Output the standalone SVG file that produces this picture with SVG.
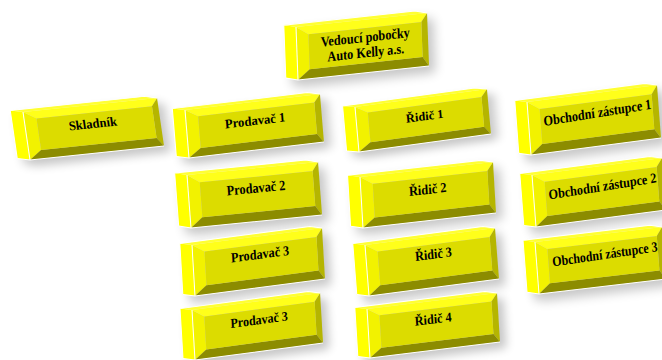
<svg xmlns="http://www.w3.org/2000/svg" xmlns:xlink="http://www.w3.org/1999/xlink" width="662" height="360" viewBox="0 0 662 360">
<style>
.t{font-family:"Liberation Serif","Times New Roman",serif;font-weight:bold;font-size:13.5px;fill:#000;text-anchor:middle}
.wl{fill:none;stroke:#fff;stroke-width:1}
</style>
<defs>
<filter id="sh" x="-30%" y="-40%" width="160%" height="180%">
<feGaussianBlur stdDeviation="5"/>
</filter>
<g id="box">
<polygon points="-12,-3 118,-3 130,0 130,50 0,50 -12,47" transform="translate(6,7)" fill="#000" opacity="0.22" filter="url(#sh)"/>
<polygon points="-12,-3 0,0 0,50 -12,47" fill="#ffff00"/>
<polygon points="-12,-3 118,-3 130,0 0,0" fill="#ffff33"/>
<polygon points="0,0 130,0 124,8 12,8" fill="#ffff1a"/>
<polygon points="0,0 12,8 12,41 0,50" fill="#f2f200"/>
<polygon points="130,0 130,50 124,41 124,8" fill="#b5b500"/>
<polygon points="0,50 130,50 124,41 12,41" fill="#8c8c00"/>
<polygon points="12,8 124,8 124,41 12,41" fill="#dcdc00"/>
<polyline class="wl" points="-12,47 -12,-3 118,-3 130,0"/>
<line class="wl" x1="0" y1="0" x2="0" y2="50"/>
<polyline class="wl" points="-12,47 0,50 130,50"/>
</g>
</defs>
<rect width="662" height="360" fill="#fff"/>
<g id="connectors"/>
<g id="n-vedouci" transform="matrix(1.008 -0.108 0.04 1.06 296 27)">
<use xlink:href="#box"/>
<text class="t" transform="translate(68,21) scale(0.9,1)">Vedoucí pobočky</text>
<text class="t" transform="translate(68,35.5) scale(0.9,1)">Auto Kelly a.s.</text>
</g>
<g id="n-skladnik" transform="matrix(1.031 -0.108 0.14 0.96 23 112)">
<use xlink:href="#box"/>
<text class="t" transform="translate(65,24) scale(0.9,1)">Skladník</text>
</g>
<g id="n-prodavac1" transform="matrix(1.038 -0.123 0.08 0.96 185 110)">
<use xlink:href="#box"/>
<text class="t" transform="translate(66,24) scale(0.9,1)">Prodavač 1</text>
</g>
<g id="n-ridic1" transform="matrix(1.015 -0.138 0.08 0.9 355 107)">
<use xlink:href="#box"/>
<text class="t" transform="translate(67,25) scale(0.9,1)">Řidič 1</text>
</g>
<g id="n-obchodni1" transform="matrix(1.0 -0.131 0.08 1.06 527 102)">
<use xlink:href="#box"/>
<text class="t" transform="translate(69,23) rotate(-1.5) scale(0.9,1)">Obchodní zástupce 1</text>
</g>
<g id="n-prodavac2" transform="matrix(1.008 -0.1 0.08 1.06 187 175)">
<use xlink:href="#box"/>
<text class="t" transform="translate(67,23) scale(0.9,1)">Prodavač 2</text>
</g>
<g id="n-ridic2" transform="matrix(1.023 -0.115 0.06 1.02 360 177)">
<use xlink:href="#box"/>
<text class="t" transform="translate(65,24) scale(0.9,1)">Řidič 2</text>
</g>
<g id="n-obchodni2" transform="matrix(1.0 -0.131 0.08 1.04 532 175)">
<use xlink:href="#box"/>
<text class="t" transform="translate(69,24) rotate(-1.5) scale(0.9,1)">Obchodní zástupce 2</text>
</g>
<g id="n-prodavac3" transform="matrix(1.0 -0.131 0.06 1.02 192 245)">
<use xlink:href="#box"/>
<text class="t" transform="translate(67,22) scale(0.9,1)">Prodavač 3</text>
</g>
<g id="n-ridic3" transform="matrix(1.0 -0.131 0.08 1.02 365 245)">
<use xlink:href="#box"/>
<text class="t" transform="translate(67,22) scale(0.9,1)">Řidič 3</text>
</g>
<g id="n-obchodni3" transform="matrix(0.977 -0.115 0.08 1.04 535 242)">
<use xlink:href="#box"/>
<text class="t" transform="translate(70,24) rotate(-1.5) scale(0.9,1)">Obchodní zástupce 3</text>
</g>
<g id="n-prodavac3b" transform="matrix(0.985 -0.131 0.06 1.0 192 310)">
<use xlink:href="#box"/>
<text class="t" transform="translate(67,23) scale(0.9,1)">Prodavač 3</text>
</g>
<g id="n-ridic4" transform="matrix(1.0 -0.123 0.06 0.98 367 309)">
<use xlink:href="#box"/>
<text class="t" transform="translate(65,23) scale(0.9,1)">Řidič 4</text>
</g>
</svg>
